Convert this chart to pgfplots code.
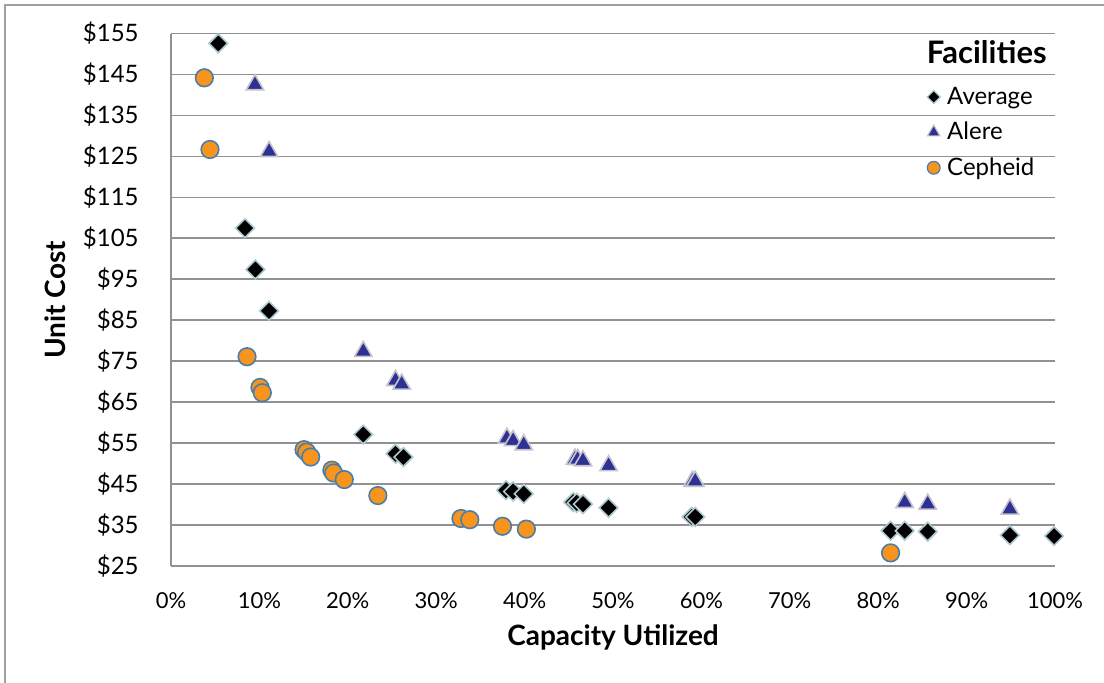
\documentclass[border=0pt]{standalone}
\usepackage{pgfplots}
\pgfplotsset{compat=1.18}
\usepackage{fontspec}
\setmainfont{Lato}
\definecolor{gridgray}{RGB}{145,145,145}
\definecolor{framegray}{RGB}{160,160,160}
\definecolor{dmdedge}{RGB}{175,200,206}
\definecolor{alerefill}{RGB}{46,49,146}
\definecolor{aleredge}{RGB}{195,195,205}
\definecolor{cephfill}{RGB}{247,148,30}
\definecolor{cephedge}{RGB}{74,126,168}
\begin{document}
\begin{tikzpicture}
\path[use as bounding box] (0,0) rectangle (552pt,341.5pt);
\draw[framegray, line width=0.8pt] (2.5pt,0) -- (2.5pt,339pt) -- (552pt,339pt);
\begin{axis}[
  at={(85.5pt,58.5pt)}, anchor=south west,
  scale only axis, width=442pt, height=266.2pt,
  xmin=0, xmax=100, ymin=25, ymax=155,
  xtick={0,10,...,100}, ytick={25,35,...,155},
  xticklabels={0\%,10\%,20\%,30\%,40\%,50\%,60\%,70\%,80\%,90\%,100\%},
  yticklabels={\$25,\$35,\$45,\$55,\$65,\$75,\$85,\$95,\$105,\$115,\$125,\$135,\$145,\$155},
  axis x line=bottom, axis y line=left,
  axis line style={gridgray, line width=0.9pt, -},
  major tick length=0pt,
  ymajorgrids, grid style={gridgray, line width=0.9pt},
  xticklabel style={anchor=north, inner sep=0pt, yshift=-13pt, font=\fontsize{11}{13}\selectfont},
  yticklabel style={anchor=east, inner sep=0pt, xshift=-16pt, font=\fontsize{12}{14}\selectfont},
  xlabel={\textbf{Capacity Utilized}}, ylabel={\textbf{Unit Cost}},
  every axis x label/.style={at={(axis description cs:0.5,-0.135)}, anchor=center, font=\fontsize{14}{16}\selectfont},
  every axis y label/.style={at={(axis description cs:-0.131,0.5)}, rotate=90, anchor=center, font=\fontsize{14}{16}\selectfont},
  clip=false,
  legend cell align=left,
  legend style={at={(rel axis cs:0.855,0.908)}, anchor=north west, draw=none, fill=none,
    font=\fontsize{12}{14}\selectfont, inner sep=0pt, row sep=3.4pt,
    /tikz/every odd column/.style={column sep=1.5pt}},
]
\addplot[only marks, mark=square*, mark options={rotate=45, fill=black, draw=dmdedge, line width=0.8pt}, mark size=3.3pt, forget plot]
coordinates {
(5.35,152.6) (8.37,107.5) (9.54,97.4) (11.09,87.3) (21.75,57.1) (25.4,52.4) (26.3,51.6)
(37.9,43.5) (38.7,43.2) (39.9,42.6) (45.5,40.6) (45.9,40.4) (46.6,40.1) (49.5,39.2)
(58.9,37.0) (59.3,37.0) (81.4,33.6) (83.0,33.6) (85.6,33.4) (94.9,32.5) (99.9,32.3)
};
\addplot[only marks, mark=triangle*, mark options={fill=alerefill, draw=aleredge, line width=0.8pt}, mark size=5pt, forget plot]
coordinates {
(9.5,142.5) (11.1,126.2) (21.75,77.4) (25.4,70.3) (26.1,69.4) (38.0,56.2) (38.7,55.6)
(39.9,54.6) (45.7,51.1) (46.0,51.0) (46.6,50.7) (49.5,49.5) (59.0,45.7) (59.3,45.7)
(83.0,40.5) (85.6,40.1) (94.9,38.9)
};
\addplot[only marks, mark=*, mark options={fill=cephfill, draw=cephedge, line width=0.8pt}, mark size=4.4pt, forget plot]
coordinates {
(3.77,144.2) (4.41,126.7) (8.6,76.1) (10.07,68.6) (10.33,67.3) (15.05,53.4) (15.35,52.8)
(15.8,51.6) (18.2,48.4) (18.4,47.7) (19.6,46.1) (23.4,42.2) (32.8,36.6) (33.8,36.3)
(37.5,34.7) (40.2,34.0) (81.4,28.2)
};
\addlegendimage{only marks, mark=square*, mark options={rotate=45, fill=black, draw=dmdedge, line width=0.6pt}, mark size=2.3pt}
\addlegendentry{Average}
\addlegendimage{only marks, mark=triangle*, mark options={fill=alerefill, draw=aleredge, line width=0.6pt}, mark size=3.6pt}
\addlegendentry{Alere}
\addlegendimage{only marks, mark=*, mark options={fill=cephfill, draw=cephedge, line width=0.6pt}, mark size=3.2pt}
\addlegendentry{Cepheid}
\node[anchor=east, inner sep=0pt, font=\fontsize{15.5}{17}\selectfont\bfseries] at (rel axis cs:0.991,0.966) {Facilities};
\end{axis}
\end{tikzpicture}
\end{document}
